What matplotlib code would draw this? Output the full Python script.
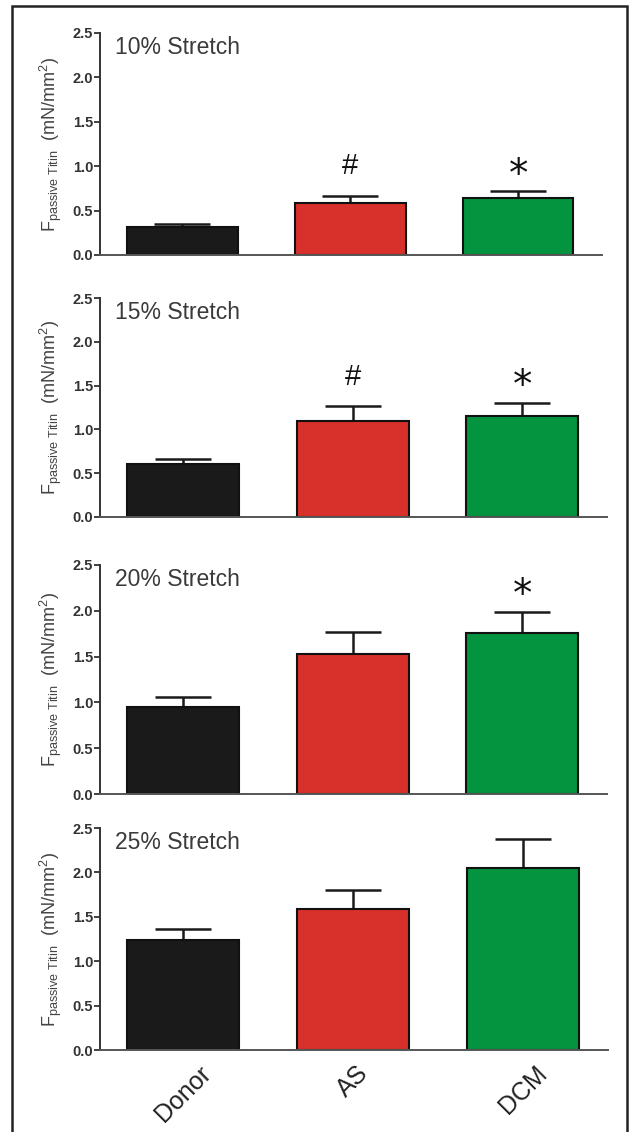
import matplotlib.pyplot as plt
import matplotlib.patches as mpatches
import numpy as np

plt.rcParams['font.family'] = ['Liberation Sans', 'DejaVu Sans']
plt.rcParams['mathtext.fontset'] = 'custom'
plt.rcParams['mathtext.rm'] = 'Liberation Sans'
plt.rcParams['mathtext.it'] = 'Liberation Sans:italic'

# === DATI ===
gruppi = ['Donor', 'AS', 'DCM']
stretch = ['10% Stretch', '15% Stretch', '20% Stretch', '25% Stretch']
media = [
    [0.32, 0.58, 0.64],
    [0.60, 1.10, 1.15],
    [0.95, 1.53, 1.76],
    [1.24, 1.59, 2.05],
]
errore = [
    [0.03, 0.08, 0.08],
    [0.06, 0.17, 0.15],
    [0.11, 0.24, 0.23],
    [0.12, 0.21, 0.33],
]
# simboli di significatività: (pannello, gruppo, simbolo, posizione y)
simboli = [
    (0, 1, '#', 1.0), (0, 2, '*', 0.98),
    (1, 1, '#', 1.6), (1, 2, '*', 1.58),
    (2, 2, '*', 2.25),
]
colori = ['#1a1a1a', '#d8302b', '#04933f']

# === GRAFICO ===
W, H = 631, 1132
fig = plt.figure(figsize=(W / 100, H / 100), dpi=100)
fig.patches.append(mpatches.Rectangle((12 / W, -0.01), 615 / W, 1.01 - 6 / H, transform=fig.transFigure,
                                      fill=False, edgecolor='#222222', linewidth=1.8))

# posizione pannelli in pixel: (y 2.5, y 0.0, fine asse x)
pannelli = [(33, 255, 602), (298, 517, 607), (565, 794, 607), (828, 1050, 608)]
x = np.arange(len(gruppi))
assi = []
for i, (ytop, ybot, xend) in enumerate(pannelli):
    ax = fig.add_axes([100 / W, 1 - ybot / H, (xend - 100) / W, (ybot - ytop) / H])
    ax.bar(x, media[i], width=0.66, color=colori, edgecolor='#111111', linewidth=1.5, zorder=2)
    ax.errorbar(x, media[i], yerr=[np.zeros(3), errore[i]], fmt='none', ecolor='#1a1a1a',
                elinewidth=1.8, capsize=20, capthick=1.8, zorder=1)
    ax.set_xlim(-0.49, 2.5)
    ax.set_ylim(0, 2.5)
    ax.set_yticks([0, 0.5, 1.0, 1.5, 2.0, 2.5])
    ax.set_yticklabels(['0.0', '0.5', '1.0', '1.5', '2.0', '2.5'], fontsize=10.5, fontweight='bold', color='#333333')
    ax.spines['top'].set_visible(False)
    ax.spines['right'].set_visible(False)
    ax.spines['left'].set_linewidth(1.4)
    ax.spines['bottom'].set_linewidth(1.4)
    ax.spines['left'].set_color('#333333')
    ax.spines['bottom'].set_color('#555555')
    ax.tick_params(axis='y', length=4, width=1.3, pad=1, color='#333333')
    ax.tick_params(axis='x', length=0)
    ax.text(0.03, 0.985, stretch[i], transform=ax.transAxes, fontsize=16.5, color='#3a3a3a', va='top')
    ax.set_ylabel(r'F$_{\mathrm{passive\ Titin}}$  (mN/mm$^2$)', fontsize=13, color='#444444', labelpad=6)
    if i < 3:
        ax.set_xticks([])
    else:
        ax.set_xticks(x)
        ax.set_xticklabels(gruppi, rotation=45, ha='center', fontsize=18, color='#222222')
        ax.tick_params(axis='x', pad=8)
    assi.append(ax)

for p, g, s, y in simboli:
    if s == '*':
        assi[p].text(g, y - 0.08, s, ha='center', va='center', fontsize=28, color='#111111',
                     family='DejaVu Sans')
    else:
        assi[p].text(g, y, s, ha='center', va='center', fontsize=21, color='#111111')

plt.savefig('out.png', dpi=100)
